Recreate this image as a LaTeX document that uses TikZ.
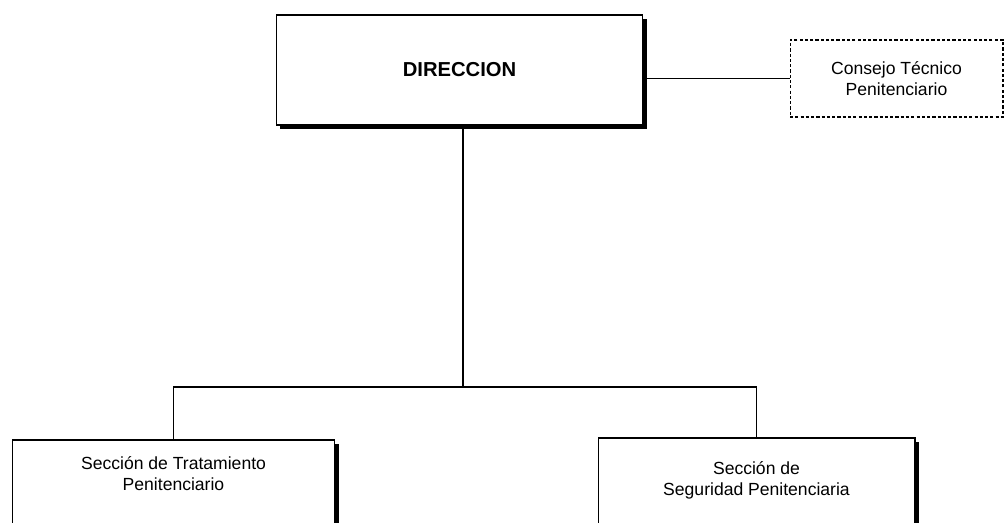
\documentclass[tikz,border=0pt]{standalone}
\usepackage{fontspec}
\setmainfont{Liberation Sans}
\usetikzlibrary{positioning,shadows}
\tikzset{
  caja/.style={draw,fill=white,line width=0.6pt,inner sep=0pt,
    drop shadow={shadow xshift=0.08cm,shadow yshift=-0.08cm,fill=black,opacity=1}},
  cajapunt/.style={draw,line width=0.6pt,dash pattern=on 1.8pt off 1.2pt,
    align=center,font=\fontsize{10}{12}\selectfont},
  txt/.style={align=center,inner sep=0pt,font=\fontsize{10}{12}\selectfont},
  linea/.style={line width=0.6pt},
}
\begin{document}
\begin{tikzpicture}[x=0.02cm,y=-0.02cm]
  \clip (0,0) rectangle (1005,523);
  % direccion
  \node[caja,minimum width=7.34cm,minimum height=2.2cm,
        font=\fontsize{11.5}{13}\selectfont\bfseries] (dir) at (459.5,70) {DIRECCION};
  \node[cajapunt,minimum width=4.26cm,minimum height=1.54cm] (consejo) at (896.5,78.5)
        {Consejo Técnico\\Penitenciario};
  % secciones (se cortan abajo)
  \node[caja,minimum width=6.46cm,minimum height=3cm] (trat) at (173.5,515) {};
  \node[txt,anchor=north,yshift=-0.34cm] (tratTxt) at (trat.north)
        {Sección de Tratamiento\\Penitenciario};
  \node[caja,minimum width=6.34cm,minimum height=3cm] (seg) at (756.5,513) {};
  \node[txt,anchor=north,yshift=-0.48cm] (segTxt) at (seg.north)
        {Sección de\\Seguridad Penitenciaria};
  % conectores
  \coordinate (bus) at (463,387);
  \draw[linea] (dir.east |- consejo.west) -- (consejo.west);
  \draw[linea] (dir.south -| bus) -- (bus);
  \draw[linea] (trat.north) |- (bus) -| (seg.north);
\end{tikzpicture}
\end{document}
